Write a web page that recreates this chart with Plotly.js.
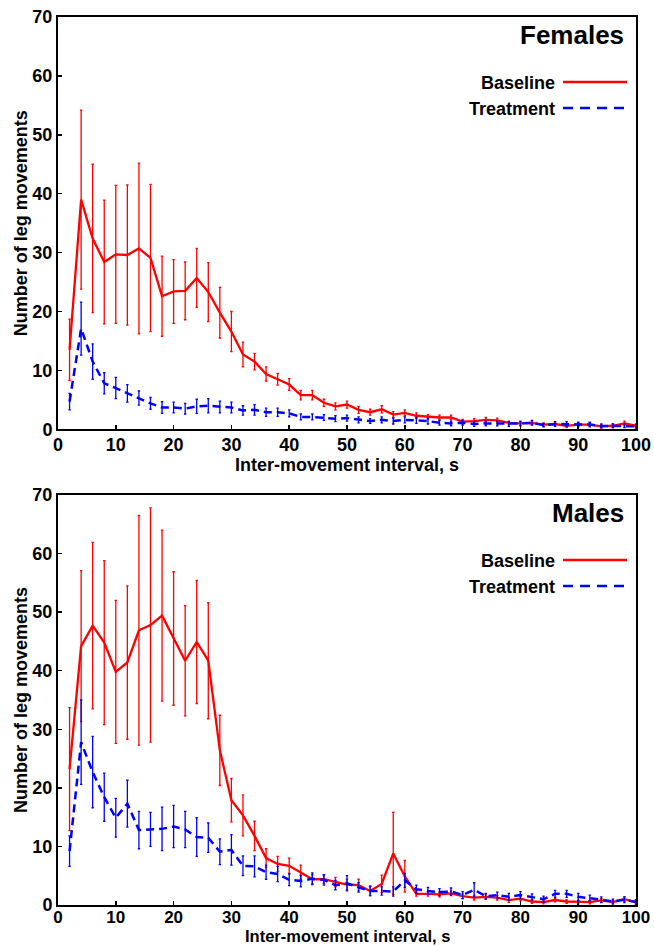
<!DOCTYPE html>
<html>
<head>
<meta charset="utf-8">
<script src="https://cdn.plot.ly/plotly-3.0.1.min.js"></script>
<style>html,body{margin:0;padding:0;background:#fff;}#chart{width:654px;height:946px;}</style>
</head>
<body>
<div id="chart"></div>
<script>
// Inter-movement interval (s)
const intervals = [2,4,6,8,10,12,14,16,18,20,22,24,26,28,30,32,34,36,38,40,42,44,46,48,50,52,54,56,58,60,62,64,66,68,70,72,74,76,78,80,82,84,86,88,90,92,94,96,98,100];

// Females
const femBaseline = [13.5,39.0,32.4,28.4,29.7,29.6,30.7,29.1,22.6,23.4, 23.5,25.7,23.3,19.8,16.6,12.7,11.5,9.4,8.5,7.6, 5.8,5.8,4.5,3.9,4.2,3.3,2.9,3.4,2.5,2.8, 2.3,2.1,2.0,2.0,1.3,1.4,1.6,1.5,1.1,1.0, 1.1,0.8,0.9,0.6,0.8,0.8,0.5,0.6,1.0,0.6];
const femBaselineErr = [5.2,15.2,12.6,10.5,11.7,11.9,14.5,12.5,6.8,5.4, 4.9,5.0,5.0,4.3,3.4,2.1,1.4,1.2,1.0,1.0, 0.8,0.8,0.6,0.6,0.6,0.6,0.5,0.6,0.5,0.5, 0.5,0.4,0.4,0.4,0.4,0.4,0.4,0.4,0.3,0.3, 0.3,0.3,0.3,0.3,0.3,0.3,0.3,0.3,0.4,0.3];
const femTreatment = [4.7,17.1,11.5,7.8,7.0,6.1,5.3,4.4,3.7,3.7, 3.5,3.9,4.0,3.8,3.7,3.2,3.3,2.9,2.9,2.7, 2.1,2.1,2.0,1.8,1.9,1.6,1.4,1.6,1.4,1.6, 1.5,1.4,1.1,1.0,1.1,0.9,1.0,1.0,0.9,1.0, 1.1,0.7,0.9,0.9,0.8,0.8,0.6,0.6,0.6,0.5];
const femTreatmentErr = [1.4,4.5,3.0,1.8,1.8,1.5,1.2,1.0,1.0,0.9, 0.9,1.2,1.2,1.0,0.9,0.8,0.9,0.7,0.7,0.6, 0.5,0.5,0.5,0.5,0.5,0.5,0.4,0.5,0.5,0.5, 0.5,0.5,0.4,0.4,0.4,0.4,0.4,0.4,0.4,0.4, 0.4,0.3,0.4,0.4,0.4,0.4,0.3,0.3,0.3,0.3];

// Males
const maleBaseline = [23.2,44.2,47.7,44.8,39.8,41.4,46.9,47.8,49.4,45.5, 41.7,44.9,41.7,26.4,17.9,15.3,11.8,8.0,7.0,6.7, 5.6,4.4,4.4,3.9,3.5,3.4,2.4,3.6,8.8,4.9, 1.9,1.9,1.8,2.0,1.5,1.25,1.4,1.25,0.85,1.1, 0.6,0.5,0.85,0.6,0.5,0.5,0.8,0.5,1.0,0.5];
const maleBaselineErr = [10.5,12.9,14.2,14.0,12.2,13.1,19.6,20.0,14.6,11.4, 9.4,10.5,9.9,6.0,3.7,3.5,2.5,1.6,1.3,1.3, 1.2,0.8,0.7,0.8,0.9,1.0,0.8,1.5,7.0,2.7, 0.4,0.4,0.4,0.4,0.4,0.4,0.4,0.4,0.4,0.4, 0.3,0.3,0.3,0.3,0.3,0.3,0.3,0.3,0.4,0.3];
const maleTreatment = [9.2,27.8,22.7,18.4,14.9,17.3,12.8,12.9,13.0,13.4, 12.9,11.6,11.5,9.1,9.4,6.7,6.6,5.6,5.3,4.3, 4.1,4.5,4.3,3.4,3.7,3.0,2.4,2.4,2.3,4.2, 2.7,2.4,2.2,2.3,1.7,2.6,1.5,1.7,1.4,1.7, 1.4,1.0,1.9,1.9,1.4,1.2,0.9,0.6,0.9,0.5];
const maleTreatmentErr = [2.6,7.2,6.1,4.1,3.3,4.0,3.2,2.9,3.7,3.6, 3.1,3.3,2.5,2.2,2.6,1.7,1.8,1.2,1.3,1.0, 1.0,1.0,0.9,0.8,1.3,0.8,0.8,0.7,0.8,1.2, 0.7,0.6,0.6,0.6,0.6,1.2,0.5,0.5,0.6,0.6, 0.5,0.5,0.6,0.6,0.6,0.5,0.5,0.4,0.5,0.4];

const panelTitles = ['Females', 'Males'];
const seriesNames = ['Baseline', 'Treatment'];
const xTitle = 'Inter-movement interval, s';
const yTitle = 'Number of leg movements';
const xTicks = [0,10,20,30,40,50,60,70,80,90,100];
const yTicks = [0,10,20,30,40,50,60,70];

const RED = '#ff0000', BLUE = '#0000ff';
const FONT = {family: 'Liberation Sans, Arial, sans-serif', color: '#000', weight: 'bold'};
const f = (size) => Object.assign({}, FONT, {size: size});

function series(y, err, color, dash, xa, ya) {
  return {
    x: intervals, y: y, type: 'scatter', mode: 'lines',
    line: {color: color, width: dash ? 2.5 : 2.3, dash: dash || 'solid'},
    error_y: {type: 'data', array: err, visible: true, color: color, thickness: 1.3, width: 1.2},
    xaxis: xa, yaxis: ya, showlegend: false, hoverinfo: 'x+y'
  };
}

const data = [
  series(femBaseline, femBaselineErr, RED, null, 'x', 'y'),
  series(femTreatment, femTreatmentErr, BLUE, '8px,5px', 'x', 'y'),
  series(maleBaseline, maleBaselineErr, RED, null, 'x2', 'y2'),
  series(maleTreatment, maleTreatmentErr, BLUE, '8px,5px', 'x2', 'y2')
];

// pixel helpers (plot area: x 58..636, y 17..907)
const L = 58, R = 18, T = 17, B = 39, W = 654, H = 946;
const pw = W - L - R, ph = H - T - B;
const px = (v) => (v - L) / pw;
const py = (v) => (H - B - v) / ph;

function xaxis(anchor, tickSize, lift) {
  return {
    anchor: anchor, domain: [0, 1], range: [0, 100], tickvals: xTicks, ticktext: xTicks.map(String),
    showline: true, linecolor: '#000', linewidth: 2, mirror: true,
    ticks: 'inside', ticklen: 4, tickwidth: 1.5, tickcolor: '#000',
    showgrid: false, zeroline: false, tickfont: f(tickSize), automargin: false,
    ticklabelstandoff: lift
  };
}
function yaxis(anchor, domain) {
  return {
    anchor: anchor, domain: domain, range: [0, 70], tickvals: yTicks, ticktext: yTicks.map(String),
    showline: true, linecolor: '#000', linewidth: 2, mirror: true,
    ticks: 'inside', ticklen: 4, tickwidth: 1.5, tickcolor: '#000',
    showgrid: false, zeroline: false, tickfont: f(18), automargin: false,
    title: {text: yTitle, font: f(18), standoff: 0}
  };
}

const annotations = [];
const shapes = [];
// panel 1: title + x-title anchored by centre; panel 2: x-title anchored to the page bottom
annotations.push({text: panelTitles[0], xref: 'paper', yref: 'paper', x: px(626), y: py(35),
  xanchor: 'right', yanchor: 'middle', showarrow: false, font: f(26)});
annotations.push({text: panelTitles[1], xref: 'paper', yref: 'paper', x: px(626), y: py(513),
  xanchor: 'right', yanchor: 'middle', showarrow: false, font: f(26)});
annotations.push({text: xTitle, xref: 'paper', yref: 'paper', x: 0.5, y: py(465),
  xanchor: 'center', yanchor: 'middle', showarrow: false, font: f(18), borderpad: 0});
annotations.push({text: xTitle, xref: 'paper', yref: 'paper', x: 0.5, y: py(945.5),
  xanchor: 'center', yanchor: 'bottom', showarrow: false, font: f(16.5), borderpad: 0});
[[82, 108], [560, 586]].forEach(leg => {
  seriesNames.forEach((name, i) => {
    annotations.push({text: name, xref: 'paper', yref: 'paper', x: px(557), y: py(leg[i] + 1),
      xanchor: 'right', yanchor: 'middle', showarrow: false, font: f(18)});
    shapes.push({type: 'line', xref: 'paper', yref: 'paper', x0: px(563), x1: px(627),
      y0: py(leg[i]), y1: py(leg[i]),
      line: {color: i === 0 ? RED : BLUE, width: 2.5, dash: i === 0 ? 'solid' : '10px,7px'}});
  });
});

const layout = {
  width: W, height: H,
  margin: {l: L, r: R, t: T, b: B, pad: 0},
  paper_bgcolor: '#fff', plot_bgcolor: '#fff',
  font: f(18),
  showlegend: false,
  xaxis: xaxis('y', 18, -2),
  yaxis: yaxis('x', [py(429.3), 1]),
  xaxis2: xaxis('y2', 17, -4),
  yaxis2: yaxis('x2', [py(905), py(495)]),
  annotations: annotations,
  shapes: shapes
};

Plotly.newPlot('chart', data, layout, {displayModeBar: false, staticPlot: true});
</script>
</body>
</html>
